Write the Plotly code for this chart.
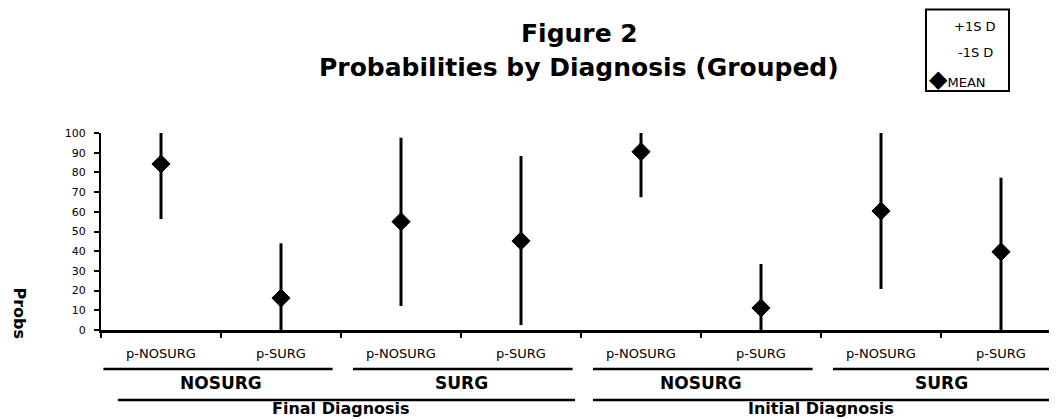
import plotly.graph_objects as go

# ---- data ----
categories = ["p-NOSURG", "p-SURG", "p-NOSURG", "p-SURG",
              "p-NOSURG", "p-SURG", "p-NOSURG", "p-SURG"]
group_labels = ["NOSURG", "SURG", "NOSURG", "SURG"]
diagnosis_labels = ["Final Diagnosis", "Initial Diagnosis"]
mean_vals = [84.3, 16.2, 55.0, 45.2, 90.5, 11.2, 60.4, 39.7]
plus_sd_vals = [100.0, 44.0, 97.6, 88.3, 100.0, 33.5, 100.0, 77.3]
minus_sd_vals = [56.3, 0.0, 12.2, 2.5, 67.4, 0.0, 20.8, 0.0]
y_ticks = [0, 10, 20, 30, 40, 50, 60, 70, 80, 90, 100]

x_idx = list(range(len(categories)))
err_plus = [p - m for p, m in zip(plus_sd_vals, mean_vals)]
err_minus = [m - n for m, n in zip(mean_vals, minus_sd_vals)]

# page body has an 8px margin; lay out in screen pixels
OFF = 8
W, H = 1057 - OFF, 419 - OFF
ML, MT = 101 - OFF, 133 - OFF
PLOT_BOTTOM = 330 - OFF
MB = H - PLOT_BOTTOM
plot_h = PLOT_BOTTOM - MT
plot_w = W - ML


def py(pix):
    """screen pixel y -> paper y"""
    return (PLOT_BOTTOM - (pix - OFF)) / plot_h


def pxp(pix):
    """screen pixel x -> paper x"""
    return ((pix - OFF) - ML) / plot_w


fig = go.Figure()
fig.add_trace(go.Scatter(
    x=x_idx, y=mean_vals, mode="markers", name="MEAN",
    marker=dict(symbol="diamond", size=14, color="black",
                line=dict(color="black", width=1)),
    error_y=dict(type="data", symmetric=False, array=err_plus,
                 arrayminus=err_minus, width=0, thickness=3, color="black"),
    cliponaxis=False, showlegend=False,
))

shapes = []
annotations = []

# second level groups (pairs)
n_per_group = 2
for g, lab in enumerate(group_labels):
    s = g * n_per_group - 0.5
    e = s + n_per_group
    x0 = s + 0.1 if g > 0 else s + 0.02
    x1 = e - 0.07 if g < len(group_labels) - 1 else e
    shapes.append(dict(type="line", xref="x", yref="paper", x0=x0, x1=x1,
                       y0=py(369), y1=py(369), line=dict(color="black", width=2.5)))
    annotations.append(dict(xref="x", yref="paper", x=(s + e) / 2, y=py(383),
                            text=lab, showarrow=False, yanchor="middle",
                            font=dict(family="DejaVu Sans", size=17, color="black", weight="bold")))

# third level groups
n_per_diag = 4
for d, lab in enumerate(diagnosis_labels):
    s = d * n_per_diag - 0.5
    e = s + n_per_diag
    x0 = s + 0.14 if d == 0 else s + 0.1
    x1 = e - 0.05 if d == 0 else e
    shapes.append(dict(type="line", xref="x", yref="paper", x0=x0, x1=x1,
                       y0=py(400), y1=py(400), line=dict(color="black", width=2.5)))
    annotations.append(dict(xref="x", yref="paper", x=(s + e) / 2, y=py(419),
                            text=lab, showarrow=False, yanchor="bottom", borderpad=0,
                            font=dict(family="DejaVu Sans", size=16, color="black", weight="bold")))

# titles
annotations.append(dict(xref="paper", yref="paper", x=0.5, y=py(34), text="Figure 2",
                        showarrow=False, yanchor="middle",
                        font=dict(family="DejaVu Sans", size=25, color="black", weight="bold")))
annotations.append(dict(xref="paper", yref="paper", x=0.5, y=py(67),
                        text="Probabilities by Diagnosis (Grouped)",
                        showarrow=False, yanchor="middle",
                        font=dict(family="DejaVu Sans", size=25, color="black", weight="bold")))

# y label
annotations.append(dict(xref="paper", yref="paper", x=pxp(9), y=py(313),
                        text="Probs", textangle=90, showarrow=False,
                        xanchor="left", yanchor="middle", borderpad=0,
                        font=dict(family="DejaVu Sans", size=16, color="black", weight="bold")))

# legend box
shapes.append(dict(type="rect", xref="paper", yref="paper",
                   x0=pxp(926), x1=pxp(1009), y0=py(91), y1=py(9.5),
                   line=dict(color="black", width=2), fillcolor="white"))
for txt, yy in [("+1S D", 26), ("-1S D", 52)]:
    annotations.append(dict(xref="paper", yref="paper", x=pxp(975), y=py(yy), text=txt,
                            showarrow=False, xanchor="center", yanchor="middle",
                            font=dict(family="DejaVu Sans", size=13, color="black")))
annotations.append(dict(xref="paper", yref="paper", x=pxp(927), y=py(79),
                        text="<span style='font-size:24px'>◆</span>MEAN",
                        showarrow=False, xanchor="left", yanchor="middle",
                        font=dict(family="DejaVu Sans", size=13, color="black")))

fig.update_layout(
    width=W, height=H,
    margin=dict(l=ML, r=0, t=MT, b=MB),
    paper_bgcolor="white", plot_bgcolor="white",
    shapes=shapes, annotations=annotations,
    showlegend=False,
)
fig.update_xaxes(
    range=[-0.5, -0.5 + plot_w / 120],
    tickmode="array", tickvals=x_idx, ticktext=categories,
    ticks="", showgrid=False, zeroline=False,
    showline=True, linecolor="black", linewidth=3,
    tickfont=dict(family="DejaVu Sans", size=13, color="black"),
    ticklabelstandoff=9,
    minor=dict(tickmode="linear", tick0=0.5, dtick=1, ticks="outside",
               ticklen=5, tickwidth=2, tickcolor="black", showgrid=False),
)
fig.update_yaxes(
    range=[0, 100], tickmode="array", tickvals=y_ticks,
    ticks="outside", ticklen=5, tickwidth=2, tickcolor="black",
    showgrid=False, zeroline=False,
    showline=True, linecolor="black", linewidth=2,
    tickfont=dict(family="DejaVu Sans", size=11, color="black"),
    ticklabelstandoff=6,
)

fig.write_html("out.html")
